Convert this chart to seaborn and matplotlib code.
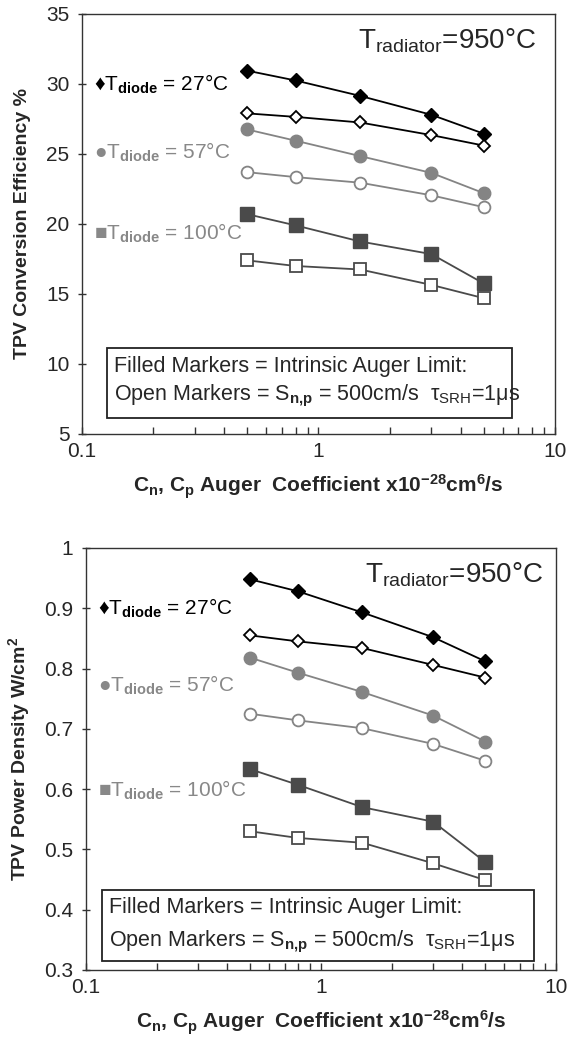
import numpy as np
import pandas as pd
import matplotlib
matplotlib.use('Agg')
import matplotlib.pyplot as plt
import seaborn as sns
from matplotlib.patches import Rectangle
from matplotlib.ticker import FixedLocator, FixedFormatter, LogLocator, NullFormatter

# Auger coefficient, x1e-28 cm^6/s
auger = [0.5, 0.8, 1.5, 3, 5]

# TPV conversion efficiency (%)
eff_27_filled = [30.95, 30.25, 29.15, 27.8, 26.45]
eff_27_open = [27.9, 27.65, 27.25, 26.35, 25.6]
eff_57_filled = [26.75, 25.95, 24.85, 23.65, 22.2]
eff_57_open = [23.7, 23.35, 22.95, 22.05, 21.2]
eff_100_filled = [20.7, 19.9, 18.75, 17.85, 15.75]
eff_100_open = [17.4, 17.0, 16.75, 15.65, 14.7]

# TPV power density (W/cm2)
pd_27_filled = [0.948, 0.928, 0.893, 0.852, 0.812]
pd_27_open = [0.855, 0.845, 0.834, 0.806, 0.785]
pd_57_filled = [0.818, 0.793, 0.761, 0.722, 0.679]
pd_57_open = [0.725, 0.714, 0.701, 0.675, 0.647]
pd_100_filled = [0.633, 0.607, 0.570, 0.546, 0.479]
pd_100_open = [0.530, 0.519, 0.511, 0.477, 0.449]

temps = ['27', '57', '100']
eff_ticks = [5, 10, 15, 20, 25, 30, 35]
pd_ticks = [0.3, 0.4, 0.5, 0.6, 0.7, 0.8, 0.9, 1.0]
pd_ticklabels = ['0.3', '0.4', '0.5', '0.6', '0.7', '0.8', '0.9', '1']

sns.set_style('white')
plt.rcParams['font.family'] = ['Liberation Sans', 'DejaVu Sans']
plt.rcParams['mathtext.fontset'] = 'custom'
plt.rcParams['mathtext.rm'] = 'Liberation Sans'
plt.rcParams['mathtext.it'] = 'Liberation Sans:italic'
plt.rcParams['mathtext.bf'] = 'Liberation Sans:bold'
plt.rcParams['mathtext.sf'] = 'Liberation Sans'

colors = {'27': '#000000', '57': '#848484', '100': '#4a4a4a'}
label_colors = {'27': '#000000', '57': '#888888', '100': '#888888'}
markers = {'27': 'D', '57': 'o', '100': 's'}
msize = {'27': 7, '57': 9, '100': 9.5}
glyphs = {'27': '\u2666', '57': '\u25cf', '100': '\u25a0'}

xlab = (r'C$_{\mathbf{n}}$, C$_{\mathbf{p}}$ Auger  Coefficient x10$^{\mathbf{-28}}$'
        r'cm$^{\mathbf{6}}$/s')
line1 = 'Filled Markers = Intrinsic Auger Limit:'
line2 = 'Open Markers = S$_{\\mathbf{n{,}p}}$ = 500cm/s  \u03c4$_{\\mathrm{SRH}}$=1\u03bcs'

fig = plt.figure(figsize=(5.69, 10.44), dpi=100)
ax1 = fig.add_axes([0.1441, 0.5843, 0.8313, 0.4023])
ax2 = fig.add_axes([0.1511, 0.0709, 0.8260, 0.4042])


def draw_panel(ax, filled, opened, ylim, yticks, yticklabels, ylabel, lab_y, lab_x,
               rad_x, box, text_x, text_y, ypad):
    for t, yf, yo in zip(temps, filled, opened):
        c = colors[t]
        sns.lineplot(x=auger, y=yf, ax=ax, color=c, linewidth=1.3, marker=markers[t],
                     markersize=msize[t], markerfacecolor=c, markeredgecolor=c,
                     markeredgewidth=1.0)
        sns.lineplot(x=auger, y=yo, ax=ax, color=c, linewidth=1.3, marker=markers[t],
                     markersize=msize[t] - 0.5, markerfacecolor='white', markeredgecolor=c,
                     markeredgewidth=1.3)
    ax.set_xscale('log')
    ax.set_xlim(0.1, 10)
    ax.set_ylim(*ylim)
    ax.xaxis.set_major_locator(FixedLocator([0.1, 1, 10]))
    ax.xaxis.set_major_formatter(FixedFormatter(['0.1', '1', '10']))
    ax.xaxis.set_minor_locator(LogLocator(base=10, subs=np.arange(2, 10)))
    ax.xaxis.set_minor_formatter(NullFormatter())
    ax.set_yticks(yticks)
    ax.set_yticklabels(yticklabels)
    ax.tick_params(axis='x', which='both', direction='in', length=5, width=1,
                   color='#333333', labelsize=15, pad=6, bottom=True, top=False)
    ax.tick_params(axis='y', which='both', direction='inout', length=6, width=1,
                   color='#333333', labelsize=15, pad=6, left=True, right=False)
    for s in ax.spines.values():
        s.set_color('#333333')
        s.set_linewidth(1.0)
    ax.set_xlabel(xlab, fontsize=15, fontweight='bold', labelpad=8)
    ax.set_ylabel(ylabel, fontsize=14, fontweight='bold', labelpad=ypad)

    ax.text(rad_x, 0.919, r'T$_{\mathrm{radiator}}$=950°C', transform=ax.transAxes,
            ha='right', va='baseline', fontsize=20)
    for t, ly in zip(temps, lab_y):
        ax.text(lab_x, ly, glyphs[t] + r'T$_{\mathbf{diode}}$ = ' + t + '°C',
                transform=ax.get_yaxis_transform(), ha='left', va='center',
                fontsize=15, color=label_colors[t])
    # note box
    ax.add_patch(Rectangle((box[0], box[1]), box[2] - box[0], box[3] - box[1],
                           transform=ax.transAxes, fc='white', ec='#222222', lw=1.3,
                           zorder=3))
    ax.text(text_x, text_y[0], line1, transform=ax.transAxes, ha='left',
            va='baseline', fontsize=15.5, zorder=4)
    ax.text(text_x, text_y[1], line2, transform=ax.transAxes, ha='left',
            va='baseline', fontsize=15.5, zorder=4)


draw_panel(ax1, [eff_27_filled, eff_57_filled, eff_100_filled],
           [eff_27_open, eff_57_open, eff_100_open],
           (5, 35), eff_ticks, [str(v) for v in eff_ticks],
           'TPV Conversion Efficiency %', [30, 25.1, 19.3], 0.026, 0.96,
           (0.052, 0.037, 0.909, 0.2055), 0.0687, (0.148, 0.081), 11)
draw_panel(ax2, [pd_27_filled, pd_57_filled, pd_100_filled],
           [pd_27_open, pd_57_open, pd_100_open],
           (0.3, 1.0), pd_ticks, pd_ticklabels,
           r'TPV Power Density W/cm$^{\mathbf{2}}$', [0.9, 0.772, 0.598], 0.026, 0.974,
           (0.034, 0.0213, 0.954, 0.1896), 0.049, (0.134, 0.055), 9)

fig.savefig('out.png', dpi=100)
